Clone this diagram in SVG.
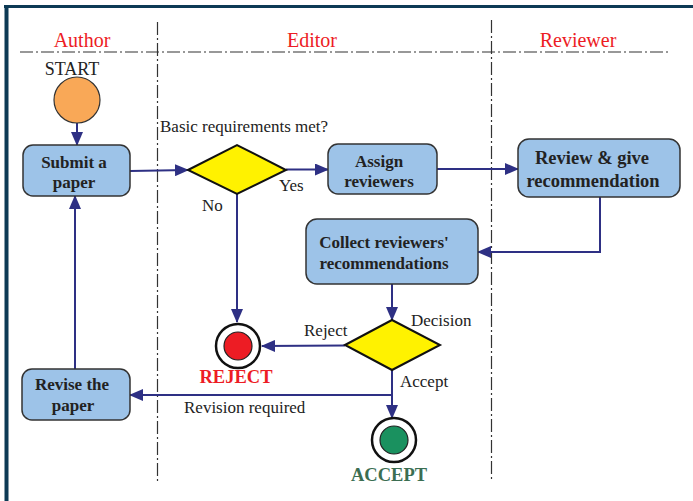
<svg xmlns="http://www.w3.org/2000/svg" width="693" height="501" viewBox="0 0 693 501">
<style>
.lane{stroke:#333;stroke-width:1.2;stroke-dasharray:13 3 2 3;fill:none}
.title{font-family:"Liberation Serif","Times New Roman",serif;font-size:20px;fill:#ed1c24;text-anchor:middle}
.box{fill:#9dc3e8;stroke:#333;stroke-width:1.5}
.bt{font-family:"Liberation Serif","Times New Roman",serif;font-weight:bold;font-size:17px;fill:#222;text-anchor:middle}
.lbl{font-family:"Liberation Serif","Times New Roman",serif;font-size:17px;fill:#222}
.dia{fill:#fff200;stroke:#111;stroke-width:2}
.con{stroke:#2e3084;stroke-width:2;fill:none}
</style>
<defs>
<marker id="ah" viewBox="0 0 14 12" refX="13" refY="6" markerWidth="14" markerHeight="12" markerUnits="userSpaceOnUse" orient="auto">
<path d="M0,0 L14,6 L0,12 Z" fill="#2e3084"/>
</marker>
</defs>
<rect width="693" height="501" fill="#fff"/>
<g id="frame">
<line x1="4" y1="6.5" x2="693" y2="6.5" stroke="#0d3a55" stroke-width="3"/>
<line x1="6.5" y1="5" x2="6.5" y2="501" stroke="#0d3a55" stroke-width="4"/>
</g>
<g id="lanes">
<line class="lane" x1="20" y1="52" x2="670" y2="52"/>
<line class="lane" x1="157.5" y1="22" x2="157.5" y2="481"/>
<line class="lane" x1="491.5" y1="20" x2="491.5" y2="479"/>
<text class="title" x="82" y="47">Author</text>
<text class="title" x="312" y="47">Editor</text>
<text class="title" x="578" y="47">Reviewer</text>
</g>
<g id="connectors">
<line class="con" x1="77" y1="123" x2="77" y2="145" marker-end="url(#ah)"/>
<line class="con" x1="130" y1="171" x2="188" y2="170" marker-end="url(#ah)"/>
<line class="con" x1="286" y1="169.5" x2="328" y2="169.5" marker-end="url(#ah)"/>
<line class="con" x1="437" y1="169" x2="518" y2="169" marker-end="url(#ah)"/>
<polyline class="con" points="600,197 600,252 478,252" marker-end="url(#ah)"/>
<line class="con" x1="392" y1="284" x2="392" y2="320" marker-end="url(#ah)"/>
<line class="con" x1="237" y1="194" x2="237" y2="322" marker-end="url(#ah)"/>
<line class="con" x1="345" y1="345.5" x2="262" y2="346" marker-end="url(#ah)"/>
<line class="con" x1="392" y1="370" x2="392" y2="418" marker-end="url(#ah)"/>
<line class="con" x1="392" y1="395" x2="130" y2="395" marker-end="url(#ah)"/>
<line class="con" x1="75" y1="369" x2="75" y2="196" marker-end="url(#ah)"/>
</g>
<g id="start">
<text class="lbl" x="72" y="75" text-anchor="middle" style="font-size:18px">START</text>
<circle cx="77" cy="100" r="23" fill="#f9a857" stroke="#333" stroke-width="1.2"/>
</g>
<g id="submit">
<rect class="box" x="23" y="145" width="107" height="51" rx="10"/>
<text class="bt" x="74" y="168">Submit a</text>
<text class="bt" x="74" y="188">paper</text>
</g>
<g id="basic">
<polygon class="dia" points="188,170 237,145 286,170 237,194"/>
<text class="lbl" x="160" y="132">Basic requirements met?</text>
<text class="lbl" x="279" y="191">Yes</text>
<text class="lbl" x="202" y="211">No</text>
</g>
<g id="assign">
<rect class="box" x="328" y="144" width="109" height="50" rx="10"/>
<text class="bt" x="379" y="167">Assign</text>
<text class="bt" x="379" y="187">reviewers</text>
</g>
<g id="review">
<rect class="box" x="518" y="139" width="162" height="58" rx="11"/>
<text class="bt" x="592" y="164" style="font-size:18.5px">Review &amp; give</text>
<text class="bt" x="593" y="187" style="font-size:18.5px">recommendation</text>
</g>
<g id="collect">
<rect class="box" x="306" y="219" width="172" height="65" rx="11"/>
<text class="bt" x="384" y="248">Collect reviewers'</text>
<text class="bt" x="384" y="269">recommendations</text>
</g>
<g id="decision">
<polygon class="dia" points="345,345 392,320 440,345 392,370"/>
<text class="lbl" x="411" y="326">Decision</text>
<text class="lbl" x="304" y="336">Reject</text>
<text class="lbl" x="400" y="387">Accept</text>
</g>
<g id="reject">
<circle cx="238" cy="346" r="22" fill="#fff" stroke="#111" stroke-width="2.5"/>
<circle cx="238" cy="346" r="14" fill="#ed1c24" stroke="#222" stroke-width="1.2"/>
<text class="bt" x="236" y="383" style="fill:#ed1c24;font-size:18.5px">REJECT</text>
</g>
<g id="accept">
<circle cx="394" cy="440" r="22" fill="#fff" stroke="#111" stroke-width="2.5"/>
<circle cx="394" cy="440" r="14" fill="#1a915f" stroke="#222" stroke-width="1.2"/>
<text class="bt" x="389" y="481" style="fill:#3b6e52;font-size:18.5px">ACCEPT</text>
</g>
<g id="revise">
<rect class="box" x="22" y="369" width="108" height="51" rx="10"/>
<text class="bt" x="72" y="390">Revise the</text>
<text class="bt" x="73" y="411">paper</text>
</g>
<text class="lbl" x="184" y="413">Revision required</text>
</svg>
